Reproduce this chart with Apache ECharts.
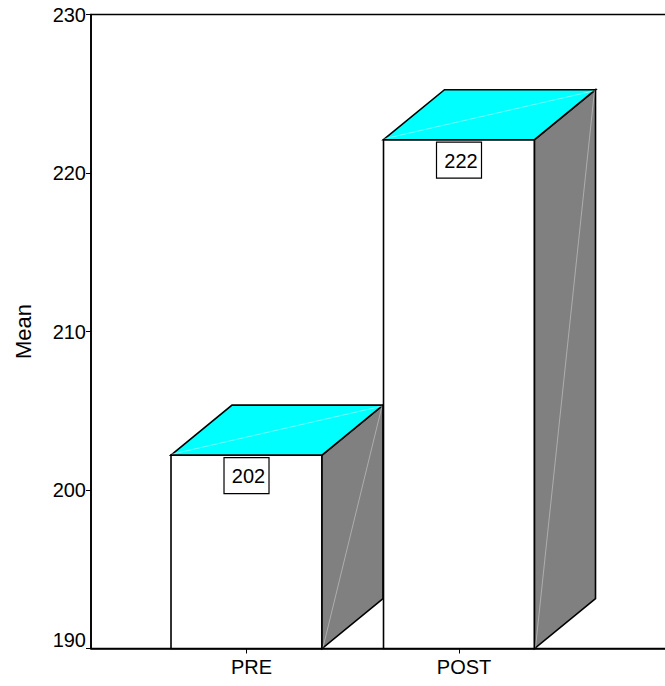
<!DOCTYPE html>
<html>
<head>
<meta charset="utf-8">
<style>
  html, body { margin: 0; padding: 0; background: #fff; }
  #chart { width: 665px; height: 686px; }
</style>
<script src="https://cdn.jsdelivr.net/npm/echarts@6/dist/echarts.min.js"></script>
</head>
<body>
<div id="chart"></div>
<script>
// Group means
const categories = ['PRE', 'POST'];
const means = [202.2, 222.1];
const yTicks = [190, 200, 210, 220, 230];

const FONT = "'Liberation Sans', Arial, Helvetica, sans-serif";
const BAR_W = 151;   // front face width, px
const DX = 61;       // depth offset to the right, px
const DY = 50;       // depth offset upward, px

const chart = echarts.init(document.getElementById('chart'), null, { renderer: 'svg' });

function renderBox(params, api) {
  const idx = api.value(0);
  const val = api.value(1);
  const top = api.coord([idx, val]);
  const base = api.coord([idx, yTicks[0]]);
  const x0 = top[0] - BAR_W / 2;
  const x1 = top[0] + BAR_W / 2;
  const yT = top[1];
  const yB = base[1];
  const edge = { stroke: '#000', lineWidth: 1.6, lineJoin: 'miter' };
  const label = String(Math.round(val));
  return {
    type: 'group',
    children: [
      { type: 'polygon', shape: { points: [[x0, yT], [x1, yT], [x1, yB], [x0, yB]] },
        style: Object.assign({ fill: '#ffffff' }, edge) },
      { type: 'polygon', shape: { points: [[x1, yT], [x1 + DX, yT - DY], [x1 + DX, yB - DY], [x1, yB]] },
        style: Object.assign({ fill: '#808080' }, edge) },
      { type: 'polygon', shape: { points: [[x0, yT], [x0 + DX, yT - DY], [x1 + DX, yT - DY], [x1, yT]] },
        style: Object.assign({ fill: '#00ffff' }, edge) },
      // faint seams across the top and side faces
      { type: 'line', shape: { x1: x0 + 1, y1: yT - 1, x2: x1 + DX - 1, y2: yT - DY + 1 },
        style: { stroke: '#ffffff', lineWidth: 0.8, opacity: 0.55 } },
      { type: 'line', shape: { x1: x1 + 1, y1: yB - 1, x2: x1 + DX - 1, y2: yT - DY + 1 },
        style: { stroke: '#ffffff', lineWidth: 0.8, opacity: 0.45 } },
      // value box
      { type: 'rect', shape: { x: top[0] - 22.5, y: yT + 2.5, width: 45, height: 36 },
        style: { fill: '#ffffff', stroke: '#000', lineWidth: 1.2 } },
      { type: 'text', x: top[0] + 2, y: yT + 21,
        style: { text: label, fill: '#000', font: '20px ' + FONT, align: 'center', verticalAlign: 'middle' } }
    ]
  };
}

chart.setOption({
  animation: false,
  backgroundColor: '#ffffff',
  grid: {
    left: 91, top: 14.5, width: 609, bottom: 37.5,
    outerBoundsMode: 'none', containLabel: false,
    show: true, borderColor: '#000', borderWidth: 1.6, backgroundColor: 'transparent'
  },
  xAxis: {
    type: 'value',
    min: -0.7318, max: 2.1341,
    splitLine: { show: false },
    axisLine: { show: true, onZero: false, lineStyle: { color: '#000', width: 1.6 } },
    axisTick: { show: true, length: 5, customValues: [0, 1], lineStyle: { color: '#000', width: 1 } },
    axisLabel: {
      customValues: [0, 1],
      formatter: v => categories[Math.round(v)],
      color: '#000', fontFamily: FONT, fontSize: 20, margin: 8,
      padding: [0, 0, 0, 10]
    }
  },
  yAxis: {
    type: 'value',
    min: 190, max: 230, interval: 10,
    name: 'Mean', nameLocation: 'middle', nameGap: 57,
    nameTextStyle: { color: '#000', fontFamily: FONT, fontSize: 22 },
    splitLine: { show: false },
    axisLine: { show: true, onZero: false, lineStyle: { color: '#000', width: 1.6 } },
    axisTick: { show: true, length: 5, lineStyle: { color: '#000', width: 1 } },
    axisLabel: {
      color: '#000', fontFamily: FONT, fontSize: 20, margin: 5,
      // the lowest label sits just above the baseline
      formatter: v => (v === yTicks[0] ? '{low|' + v + '}' : String(v)),
      rich: { low: { fontFamily: FONT, fontSize: 20, color: '#000', padding: [0, 0, 18, 0] } }
    }
  },
  series: [{
    type: 'custom',
    renderItem: renderBox,
    encode: { x: 0, y: 1 },
    clip: false,
    data: means.map((m, i) => [i, m])
  }]
});
</script>
</body>
</html>
